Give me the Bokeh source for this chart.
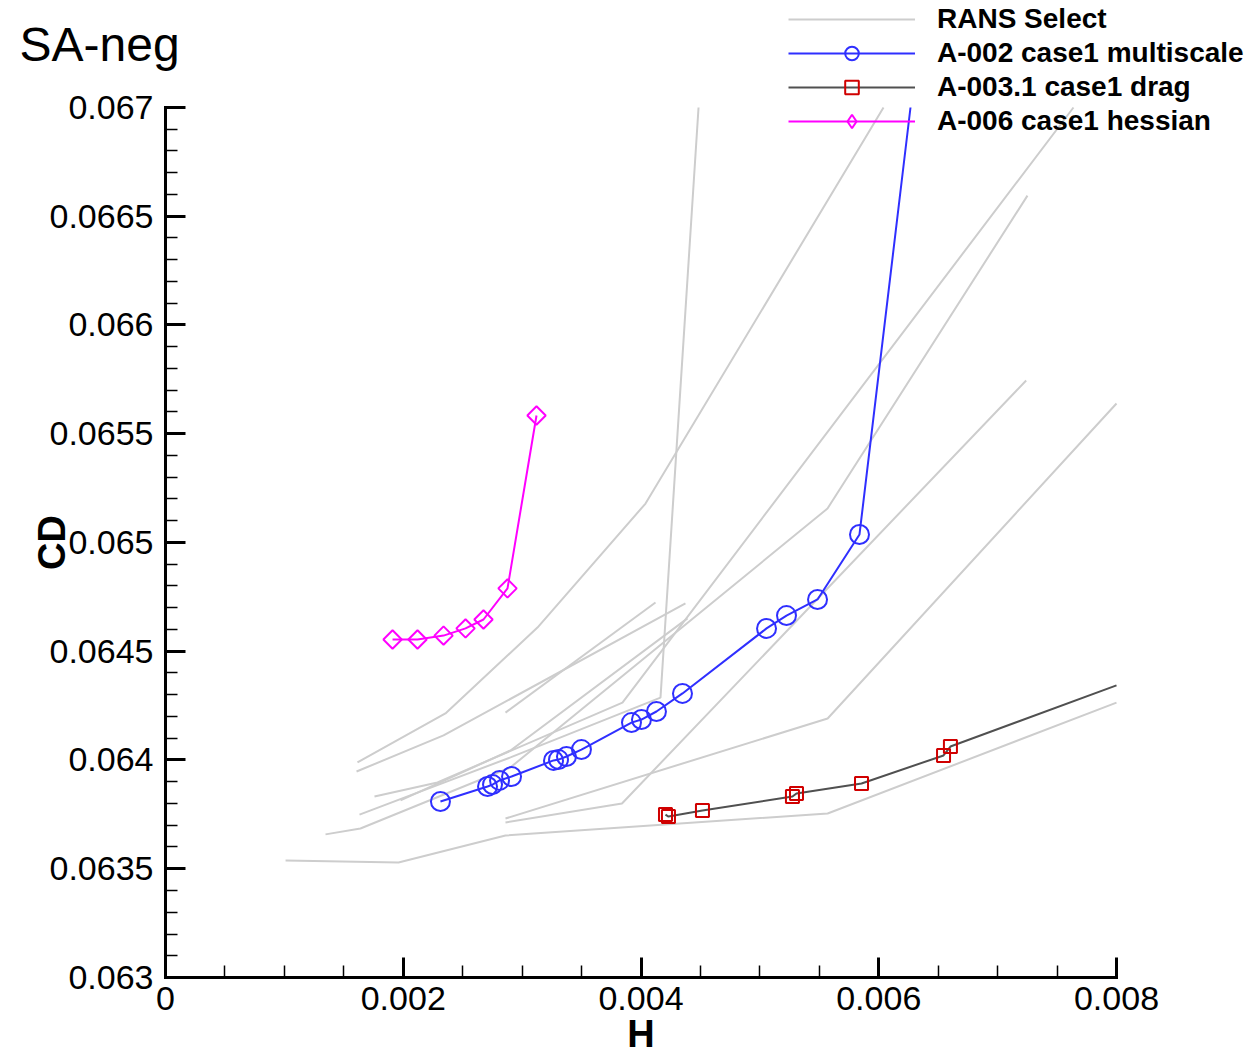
import math
from bokeh.plotting import figure
from bokeh.models import (Legend, LegendItem, SingleIntervalTicker, CustomJSTickFormatter,
                          Label, Range1d, ColumnDataSource, CDSView, IndexFilter)
from bokeh.embed import file_html
from bokeh.resources import INLINE

# ---------------- data ----------------
# RANS Select reference curves (H, CD); a last point on the box edge marks where a curve leaves the axes
rans1_h = [0.00101, 0.00196, 0.00286, 0.00557, 0.00800]
rans1_cd = [0.063538, 0.063529, 0.063653, 0.063754, 0.064264]
rans2_h = [0.00286, 0.00384, 0.00724]
rans2_cd = [0.063713, 0.063800, 0.065745]
rans3_h = [0.00286, 0.00557, 0.00800]
rans3_cd = [0.063731, 0.064191, 0.065639]
rans4_h = [0.001615, 0.002355, 0.003129, 0.004038, 0.006040]
rans4_cd = [0.063989, 0.064214, 0.064609, 0.065179, 0.067000]
rans5_h = [0.001607, 0.002339, 0.004374]
rans5_cd = [0.063947, 0.064113, 0.064720]
rans6_h = [0.00286, 0.004122]
rans6_cd = [0.064218, 0.064724]
rans7_h = [0.001977, 0.002902, 0.004391]
rans7_cd = [0.063814, 0.064044, 0.064651]
rans8_h = [0.001632, 0.002902, 0.004164, 0.004484]
rans8_cd = [0.063749, 0.064012, 0.064287, 0.067000]
rans9_h = [0.001346, 0.001640, 0.002902, 0.005569, 0.007251]
rans9_cd = [0.063658, 0.063685, 0.063966, 0.065156, 0.066595]
rans10_h = [0.001758, 0.002288, 0.003844, 0.007638]
rans10_cd = [0.063832, 0.063897, 0.064264, 0.067000]

rans_h = [rans1_h, rans2_h, rans3_h, rans4_h, rans5_h, rans6_h, rans7_h, rans8_h, rans9_h, rans10_h]
rans_cd = [rans1_cd, rans2_cd, rans3_cd, rans4_cd, rans5_cd, rans6_cd, rans7_cd, rans8_cd, rans9_cd, rans10_cd]

# A-002 case1 multiscale (last entry: where the curve leaves the top of the axes)
a002_h = [0.002313, 0.002709, 0.002751, 0.002810, 0.002911, 0.003264, 0.003306, 0.003373,
          0.003499, 0.003920, 0.004004, 0.004130, 0.004349, 0.005056, 0.005224, 0.005485,
          0.005838, 0.006267]
a002_cd = [0.063809, 0.063878, 0.063887, 0.063906, 0.063924, 0.063998, 0.064002, 0.064016,
           0.064048, 0.064172, 0.064186, 0.064223, 0.064306, 0.064605, 0.064664, 0.064738,
           0.065037, 0.067000]

# A-003.1 case1 drag (last entry: where the curve leaves the right of the axes)
a003_h = [0.004206, 0.004231, 0.004517, 0.005274, 0.005308, 0.005855, 0.006545, 0.006603, 0.008000]
a003_cd = [0.063749, 0.063740, 0.063768, 0.063832, 0.063846, 0.063892, 0.064021, 0.064062, 0.064343]

# A-006 case1 hessian
a006_h = [0.001910, 0.002120, 0.002339, 0.002524, 0.002675, 0.002877, 0.003121]
a006_cd = [0.064554, 0.064554, 0.064572, 0.064605, 0.064646, 0.064789, 0.065584]

labels = ["RANS Select", "A-002 case1 multiscale", "A-003.1 case1 drag", "A-006 case1 hessian"]
x_ticks_bounds = (0.0, 0.008)
y_ticks_bounds = (0.063, 0.067)

# ---------------- figure ----------------
FONT = "Liberation Sans"
W, H = 1254, 1055
# the frame fills the whole canvas; axes are pinned at H=0 / CD=0.063
p = figure(width=W, height=H,
           x_range=Range1d(-0.00138801, 0.00916088),
           y_range=Range1d(0.06264138, 0.06749195),
           output_backend="svg", toolbar_location=None, title_location=None,
           min_border=0, min_border_left=0, min_border_right=0,
           min_border_top=0, min_border_bottom=0)
p.xgrid.visible = False
p.ygrid.visible = False
p.outline_line_color = None
p.background_fill_color = "white"
p.border_fill_color = "white"
# range used only to keep the legend's proxy marker off the canvas
p.extra_x_ranges = {"legend_proxy": Range1d(1.0, 2.0)}

GRAY = "#cdcdcd"
gray_renderers = []
for hs, cds in zip(rans_h, rans_cd):
    r = p.line(hs, cds, line_color=GRAY, line_width=2)
    gray_renderers.append(r)

BLUE = "#2f2fff"
src002 = ColumnDataSource(data=dict(h=a002_h, cd=a002_cd))
l002 = p.line("h", "cd", source=src002, line_color=BLUE, line_width=2)
s002 = p.scatter("h", "cd", source=src002, view=CDSView(filter=IndexFilter(list(range(len(a002_h) - 1)))),
                 marker="circle", size=19, fill_color=None, line_color=BLUE, line_width=2)

RED = "#d00000"
src003 = ColumnDataSource(data=dict(h=a003_h, cd=a003_cd))
l003 = p.line("h", "cd", source=src003, line_color="#505050", line_width=2)
s003 = p.scatter("h", "cd", source=src003, view=CDSView(filter=IndexFilter(list(range(len(a003_h) - 1)))),
                 marker="square", size=13, fill_color=None, line_color=RED, line_width=2)

MAG = "#ff00ff"
src006 = ColumnDataSource(data=dict(h=a006_h, cd=a006_cd))
l006 = p.line("h", "cd", source=src006, line_color=MAG, line_width=2)
s006 = p.scatter("h", "cd", source=src006, marker="square", angle=math.pi / 4, size=13,
                 fill_color=None, line_color=MAG, line_width=2)
# legend proxy (legend glyphs ignore a marker's angle); drawn off-canvas
s006_leg = p.scatter("h", "cd", source=src006, x_range_name="legend_proxy",
                     marker="diamond", size=13, fill_color=None, line_color=MAG, line_width=2)

# axes
p.xaxis.ticker = SingleIntervalTicker(interval=0.002, num_minor_ticks=4)
p.yaxis.ticker = SingleIntervalTicker(interval=0.0005, num_minor_ticks=5)
p.xaxis.bounds = x_ticks_bounds
p.yaxis.bounds = y_ticks_bounds
p.xaxis.fixed_location = y_ticks_bounds[0]
p.yaxis.fixed_location = x_ticks_bounds[0]
fmt = CustomJSTickFormatter(code="return String(Number(tick.toFixed(6)));")
for ax in (p.xaxis[0], p.yaxis[0]):
    ax.formatter = fmt
    ax.axis_line_width = 3
    ax.axis_line_color = "black"
    ax.axis_line_cap = "square"
    ax.major_tick_line_width = 3
    ax.minor_tick_line_width = 1.5
    ax.major_tick_in = 20
    ax.major_tick_out = 0
    ax.minor_tick_in = 12
    ax.minor_tick_out = 0
    ax.major_label_text_font = FONT
    ax.major_label_text_font_size = "34px"
    ax.major_label_text_color = "black"
    ax.axis_label_text_font = FONT
    ax.axis_label_text_font_style = "bold"
    ax.axis_label_text_font_size = "38px"
    ax.axis_label_text_color = "black"

p.xaxis.axis_label = "H"
p.yaxis.axis_label = "CD"
p.xaxis.major_label_standoff = 9
p.xaxis.axis_label_standoff = 0
p.yaxis.major_label_standoff = 12
p.yaxis.axis_label_standoff = -26

legend = Legend(items=[
    LegendItem(label=labels[0], renderers=[gray_renderers[0]]),
    LegendItem(label=labels[1], renderers=[l002, s002]),
    LegendItem(label=labels[2], renderers=[l003, s003]),
    LegendItem(label=labels[3], renderers=[l006, s006_leg]),
], location=(788, 917), glyph_width=127, glyph_height=34, label_height=34, spacing=0,
    label_standoff=22, padding=0, margin=0, border_line_color=None, background_fill_alpha=0,
    label_text_font=FONT, label_text_font_style="bold", label_text_font_size="28px",
    label_text_color="black")
p.add_layout(legend)

title = Label(x=19, y=H - 44, x_units="screen", y_units="screen", text="SA-neg",
              text_font=FONT, text_font_size="48px", text_color="black",
              text_baseline="alphabetic")
p.add_layout(title)

open("out.html", "w").write(file_html(p, INLINE))
